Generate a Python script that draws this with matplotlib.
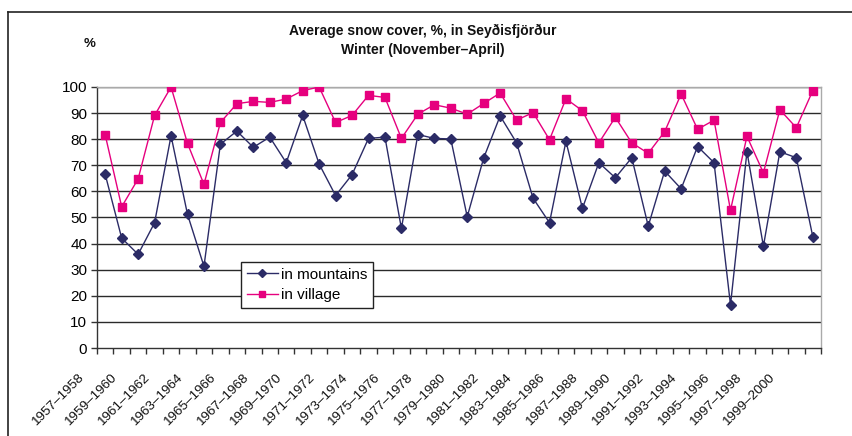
import matplotlib
matplotlib.use("Agg")
import matplotlib.pyplot as plt
import matplotlib.transforms as mtransforms
from matplotlib.lines import Line2D

plt.rcParams['font.family'] = ['Liberation Sans', 'DejaVu Sans']

start_years = list(range(1957, 2001))
seasons = [f"{y}\u2013{y+1}" for y in start_years]

mountains = [66.5, 42.1, 35.9, 48.0, 81.3, 51.2, 31.3, 78.1, 83.1, 76.9,
             80.8, 71.0, 89.1, 70.5, 58.4, 66.4, 80.3, 80.8, 45.8, 81.8,
             80.3, 80.1, 50.3, 72.8, 88.9, 78.6, 57.4, 48.0, 79.2, 53.5,
             71.0, 65.2, 72.9, 46.7, 67.8, 61.0, 77.2, 71.0, 16.5, 75.2,
             39.0, 75.2, 72.9, 42.7]
village = [81.6, 54.1, 64.8, 89.1, 100.0, 78.4, 62.7, 86.4, 93.6, 94.5,
           94.1, 95.4, 98.6, 100.0, 86.4, 89.1, 96.8, 96.0, 80.3, 89.6,
           93.2, 91.9, 89.6, 93.7, 97.7, 87.3, 90.2, 79.8, 95.5, 90.9,
           78.6, 88.4, 78.6, 74.6, 82.9, 97.3, 83.8, 87.3, 52.8, 81.1,
           67.1, 91.3, 84.4, 98.6]
yticks = list(range(0, 101, 10))

title = "Average snow cover, %, in Sey\u00f0isfj\u00f6r\u00f0ur\nWinter (November\u2013April)"

W, H = 852, 436
fig = plt.figure(figsize=(W/100, H/100), dpi=100)
ax = fig.add_axes([97/W, 1-348/H, (821-97)/W, (348-87)/H])

n = len(seasons)
xs = [i + 0.5 for i in range(n)]

for y in yticks[1:]:
    ax.axhline(y, color='#2a2a2a', lw=1.0, zorder=1)

ax.plot(xs, mountains, color='#2b2b66', lw=1.0, marker='D', ms=5,
        mfc='#2b2b66', mec='#2b2b66', label='in mountains', zorder=3)
ax.plot(xs, village, color='#e6007e', lw=1.0, marker='s', ms=5.5,
        mfc='#e6007e', mec='#e6007e', label='in village', zorder=3)

ax.set_xlim(0, n)
ax.set_ylim(0, 100)
ax.set_yticks(yticks)
ax.set_yticklabels([str(v) for v in yticks], fontsize=11)
ax.set_xticks(range(n + 1))
ax.set_xticklabels([])
ax.tick_params(axis='x', direction='out', length=4, width=1, color='#333333')
ax.tick_params(axis='y', direction='out', length=4, width=1, color='#333333', pad=3)

for s in ['top', 'right']:
    ax.spines[s].set_color('#aaaaaa')
    ax.spines[s].set_linewidth(1.0)
for s in ['left', 'bottom']:
    ax.spines[s].set_color('#333333')
    ax.spines[s].set_linewidth(1.0)

# category labels every other season
off = mtransforms.ScaledTranslation(-19/100, -24/100, fig.dpi_scale_trans)
trans = mtransforms.blended_transform_factory(ax.transData, ax.transAxes) + off
for i in range(0, n, 2):
    ax.text(xs[i], 0, seasons[i], rotation=45, ha='right', va='top',
            fontsize=9.7, transform=trans, color='#111111')

leg = ax.legend(loc='lower left', bbox_to_anchor=(0.199, 0.152),
                borderaxespad=0, fontsize=11, frameon=True,
                fancybox=False, handlelength=2.0, handletextpad=0.2,
                borderpad=0.4, labelspacing=0.42, markerscale=0.85)
leg.get_frame().set_edgecolor('#222222')
leg.get_frame().set_linewidth(1.0)
leg.get_frame().set_alpha(1)

fig.text(423/W, 1-40/H, title, ha='center', va='center', fontsize=10,
         fontweight='bold', linespacing=1.45, color='#111111')
fig.text(90/W, 1-44/H, '%', ha='center', va='center', fontsize=9.5,
         fontweight='bold', color='#111111')

fig.add_artist(Line2D([8/W, 1], [1-12/H, 1-12/H], color='#222222', lw=1.2,
                      transform=fig.transFigure))
fig.add_artist(Line2D([8/W, 8/W], [0, 1-12/H], color='#222222', lw=1.2,
                      transform=fig.transFigure))

fig.savefig('out.png', dpi=100, facecolor='white')
